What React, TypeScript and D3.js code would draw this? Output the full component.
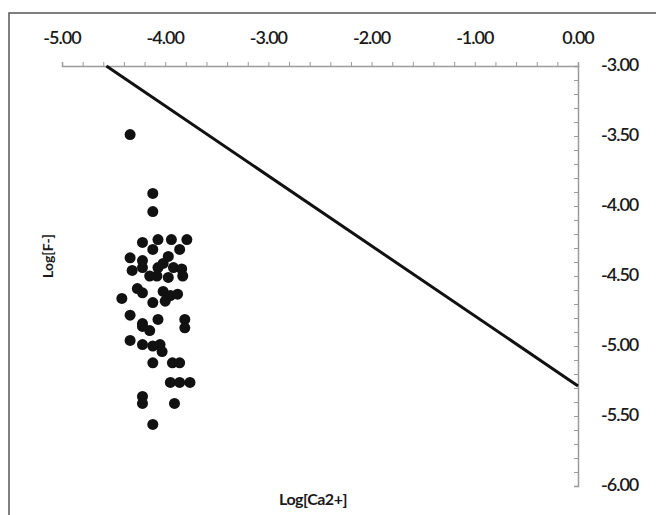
import React, { useEffect, useRef } from "react";
import * as d3 from "d3";

// scatter points: log[Ca2+] and log[F-]
const logCa = [
  -4.34, -4.12, -4.12, -4.22, -4.07, -3.94, -3.79, -4.12, -3.86, -4.34,
  -4.22, -3.97, -4.32, -4.22, -4.07, -4.02, -3.92, -3.84, -4.15, -4.08,
  -3.97, -3.83, -4.27, -4.22, -4.02, -3.95, -3.88, -4.42, -4.12, -4.0,
  -4.34, -4.22, -4.07, -3.81, -3.81, -4.22, -4.15, -4.34, -4.22, -4.12,
  -4.05, -4.03, -4.12, -3.93, -3.86, -3.95, -3.86, -3.76, -4.22, -4.22,
  -3.91, -4.12,
];
const logF = [
  -3.49, -3.91, -4.04, -4.26, -4.24, -4.24, -4.24, -4.31, -4.31, -4.37,
  -4.39, -4.36, -4.46, -4.44, -4.44, -4.41, -4.44, -4.45, -4.5, -4.5,
  -4.51, -4.5, -4.59, -4.62, -4.61, -4.64, -4.63, -4.66, -4.69, -4.68,
  -4.78, -4.84, -4.81, -4.81, -4.87, -4.86, -4.89, -4.96, -4.99, -5.0,
  -4.99, -5.04, -5.12, -5.12, -5.12, -5.26, -5.26, -5.26, -5.36, -5.41,
  -5.41, -5.56,
];

// solubility line end points
const lineCa = [-4.57, 0];
const lineF = [-3.0, -5.285];

const xTickValues = [-5, -4, -3, -2, -1, 0];
const yTickValues = [-3, -3.5, -4, -4.5, -5, -5.5, -6];

const W = 656;
const H = 515;

const App = () => {
  const ref = useRef<SVGSVGElement>(null);

  useEffect(() => {
    const svg = d3.select(ref.current);
    svg.selectAll("*").remove();

    const x = d3.scaleLinear().domain([-5, 0]).range([62, 578]);
    const y = d3.scaleLinear().domain([-3, -6]).range([66, 486]);

    svg.append("rect")
      .attr("x", 9).attr("y", 13)
      .attr("width", W).attr("height", H)
      .attr("fill", "white")
      .attr("stroke", "#555").attr("stroke-width", 1.5);

    const font = "Lato, 'Open Sans', sans-serif";

    // x axis (top, crosses at y = -3)
    const xAxis = d3.axisTop(x)
      .tickValues(d3.range(-5, 0.001, 0.2))
      .tickSize(4)
      .tickFormat(() => "");
    const gx = svg.append("g").attr("transform", `translate(0,${y(-3)})`).call(xAxis);
    gx.select(".domain").attr("stroke", "#9a9a9a").attr("stroke-width", 1.5);
    gx.selectAll(".tick line").attr("stroke", "#9a9a9a");

    svg.append("g").selectAll("text")
      .data(xTickValues)
      .join("text")
      .attr("x", (d) => x(d))
      .attr("y", y(-3) - 29)
      .attr("text-anchor", "middle")
      .attr("dominant-baseline", "central")
      .attr("font-family", font)
      .attr("font-size", 18)
      .attr("font-weight", 600)
      .attr("letter-spacing", -1)
      .attr("fill", "#1a1a1a")
      .text((d) => d.toFixed(2));

    // y axis (right, crosses at x = 0)
    const yAxis = d3.axisLeft(y)
      .tickValues(d3.range(-3, -6.001, -0.1))
      .tickSize(4)
      .tickFormat(() => "");
    const gy = svg.append("g").attr("transform", `translate(${x(0)},0)`).call(yAxis);
    gy.select(".domain").attr("stroke", "#9a9a9a").attr("stroke-width", 1.5);
    gy.selectAll(".tick line").attr("stroke", "#9a9a9a");

    svg.append("g").selectAll("text")
      .data(yTickValues)
      .join("text")
      .attr("x", x(0) + 23)
      .attr("y", (d) => y(d) - 2)
      .attr("dominant-baseline", "central")
      .attr("font-family", font)
      .attr("font-size", 18)
      .attr("font-weight", 600)
      .attr("letter-spacing", -1)
      .attr("fill", "#1a1a1a")
      .text((d) => d.toFixed(2));

    // line
    const line = d3.line<number>()
      .x((d) => x(lineCa[d]))
      .y((d) => y(lineF[d]));
    svg.append("path")
      .attr("d", line([0, 1]))
      .attr("fill", "none")
      .attr("stroke", "#111")
      .attr("stroke-width", 3);

    // points
    svg.append("g").selectAll("circle")
      .data(logCa.map((c, i) => [c, logF[i]]))
      .join("circle")
      .attr("cx", (d) => x(d[0]))
      .attr("cy", (d) => y(d[1]))
      .attr("r", 5.5)
      .attr("fill", "#111");

    // axis titles
    svg.append("text")
      .attr("x", 313).attr("y", 498)
      .attr("text-anchor", "middle")
      .attr("dominant-baseline", "central")
      .attr("font-family", font)
      .attr("font-weight", "bold")
      .attr("font-size", 16)
      .attr("letter-spacing", -0.5)
      .attr("fill", "#1a1a1a")
      .text("Log[Ca2+]");

    svg.append("text")
      .attr("transform", "translate(47,256) rotate(-90)")
      .attr("text-anchor", "middle")
      .attr("dominant-baseline", "central")
      .attr("font-family", font)
      .attr("font-weight", "bold")
      .attr("font-size", 14)
      .attr("fill", "#1a1a1a")
      .text("Log[F-]");
  }, []);

  return (
    <svg
      ref={ref}
      width={W}
      height={H}
      style={{ position: "absolute", left: 0, top: 0, background: "white" }}
    />
  );
};

export default App;
